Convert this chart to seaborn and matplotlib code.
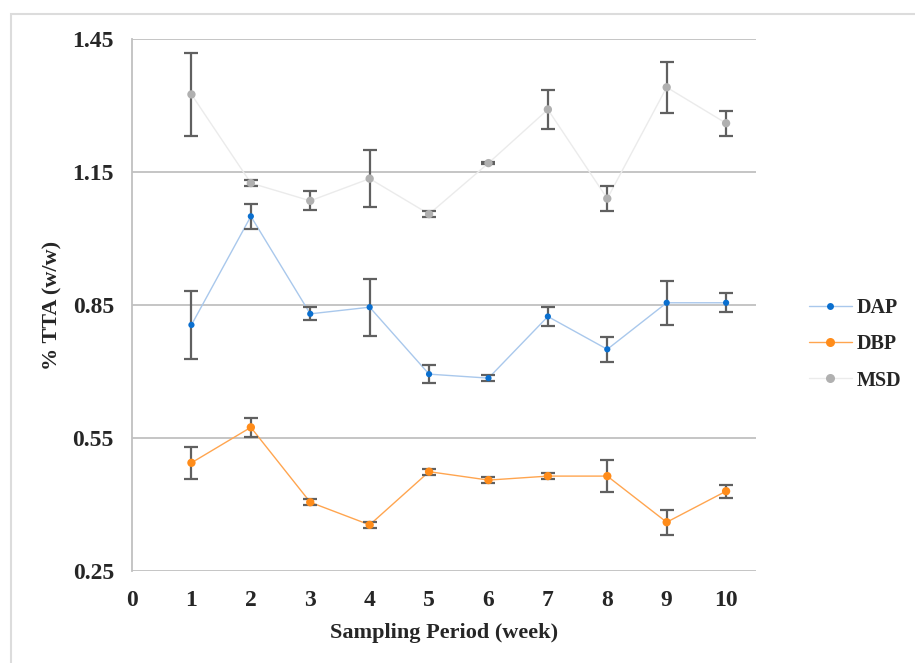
import matplotlib
matplotlib.use("Agg")
import matplotlib.pyplot as plt
from matplotlib.lines import Line2D
from matplotlib.patches import Rectangle
import seaborn as sns
import pandas as pd

weeks = [1, 2, 3, 4, 5, 6, 7, 8, 9, 10]
dap = [0.805, 1.050, 0.830, 0.845, 0.694, 0.685, 0.824, 0.750, 0.855, 0.855]
dap_err = [0.077, 0.028, 0.015, 0.064, 0.021, 0.006, 0.022, 0.028, 0.050, 0.021]
dbp = [0.494, 0.574, 0.405, 0.354, 0.474, 0.455, 0.464, 0.464, 0.360, 0.430]
dbp_err = [0.036, 0.021, 0.007, 0.007, 0.007, 0.007, 0.007, 0.036, 0.028, 0.015]
msd = [1.325, 1.125, 1.085, 1.135, 1.055, 1.170, 1.291, 1.090, 1.341, 1.260]
msd_err = [0.093, 0.007, 0.021, 0.064, 0.006, 0.002, 0.043, 0.028, 0.057, 0.028]
series_names = ["DAP", "DBP", "MSD"]
y_ticks = [0.25, 0.55, 0.85, 1.15, 1.45]
x_ticks = [0, 1, 2, 3, 4, 5, 6, 7, 8, 9, 10]

sns.set_theme(style="white")
plt.rcParams["font.family"] = ["Liberation Serif", "DejaVu Serif"]
plt.rcParams["font.weight"] = "bold"

marker_colors = {"DAP": "#0a6fcf", "DBP": "#ff8c1a", "MSD": "#b0b0b0"}
line_colors = {"DAP": "#a9c8ec", "DBP": "#ffa54f", "MSD": "#ebebeb"}
marker_sizes = {"DAP": 20, "DBP": 36, "MSD": 36}

frames = []
for name, vals, errs in zip(series_names, [dap, dbp, msd], [dap_err, dbp_err, msd_err]):
    frames.append(pd.DataFrame({"week": weeks, "value": vals, "err": errs, "series": name}))
df = pd.concat(frames, ignore_index=True)

fig = plt.figure(figsize=(9.15, 6.63), dpi=100)
ax = fig.add_axes([0.1443, 0.1388, 0.6817, 0.8024])

# outer border
fig.patches.append(Rectangle((11 / 915, -0.05), 1.2, 1 - 14 / 663 + 0.05,
                             transform=fig.transFigure, fill=False,
                             edgecolor="#dcdcdc", linewidth=1.5, zorder=0))

for y in y_ticks:
    ax.axhline(y, color="#c0c0c0", linewidth=1.3, zorder=0)

sns.lineplot(data=df, x="week", y="value", hue="series", palette=line_colors,
             linewidth=1.0, legend=False, ax=ax, zorder=2)

for name in series_names:
    sub = df[df["series"] == name]
    ax.errorbar(sub["week"], sub["value"], yerr=sub["err"], fmt="none",
                ecolor="#606060", elinewidth=1.6, capsize=5, capthick=1.6, zorder=3)

sns.scatterplot(data=df, x="week", y="value", hue="series", palette=marker_colors,
                size="series", sizes=marker_sizes, edgecolor="none", legend=False,
                ax=ax, zorder=4)

ax.set_xlim(0, 10.5)
ax.set_ylim(0.25, 1.45)
ax.set_xticks(x_ticks)
ax.set_yticks(y_ticks)
ax.set_xticklabels([str(v) for v in x_ticks], fontsize=17, fontweight="bold", color="#262626")
ax.set_yticklabels([f"{v:.2f}" for v in y_ticks], fontsize=17, fontweight="bold", color="#262626")
ax.tick_params(axis="x", length=0, pad=14)
ax.tick_params(axis="y", length=0, pad=13)
ax.set_xlabel("Sampling Period (week)", fontsize=16, fontweight="bold", color="#262626", labelpad=8)
ax.set_ylabel("% TTA (w/w)", fontsize=16, fontweight="bold", color="#262626")
ax.yaxis.set_label_coords(-0.112, 0.5)

for side in ["top", "right", "bottom"]:
    ax.spines[side].set_visible(False)
ax.spines["left"].set_color("#c0c0c0")
ax.spines["left"].set_linewidth(1.3)

handles = [Line2D([0], [0], color=line_colors[n], marker="o",
                  markersize=5 if n == "DAP" else 6.5,
                  markerfacecolor=marker_colors[n], markeredgecolor="none", linewidth=1.0)
           for n in series_names]
leg = fig.legend(handles, series_names, loc="center left", bbox_to_anchor=(0.864, 0.4805),
                 frameon=False, prop={"family": "Liberation Serif", "weight": "bold", "size": 14.5},
                 labelspacing=0.8, handlelength=2.15, handletextpad=0.25)
for t in leg.get_texts():
    t.set_color("#262626")

fig.savefig("out.png", dpi=100)
